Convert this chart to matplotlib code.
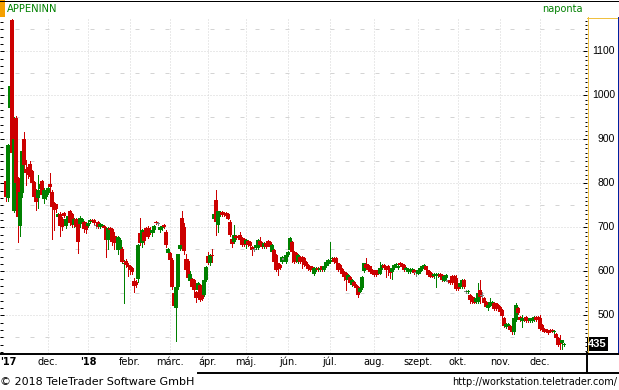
import numpy as np
import matplotlib
matplotlib.use("Agg")
import matplotlib.pyplot as plt
from matplotlib.ticker import MultipleLocator
from matplotlib.patches import Rectangle

# APPENINN daily candles, Nov 2017 - Dec 2018 (trading-day index)
opens = [805, 766, 972, 1171, 738, 949, 811, 702, 777, 900,
         832, 838, 844, 827, 804, 785, 766, 787, 806, 764,
         770, 779, 798, 781, 755, 752, 724, 730, 720, 732,
         702, 717, 736, 730, 705, 720, 710, 707, 710, 712,
         709, 702, 712, 716, 717, 705, 712, 700, 702, 703,
         698, 672, 698, 696, 680, 678, 648, 651, 651, 617,
         624, 614, 611, 607, 577, 575, 582, 686, 664, 690,
         698, 698, 694, 686, 694, 712, 709, 694, 698, 705,
         690, 641, 641, 626, 550, 516, 564, 651, 722, 700,
         628, 624, 577, 582, 580, 554, 558, 569, 565, 546,
         580, 635, 618, 637, 720, 761, 705, 727, 734, 732,
         732, 730, 713, 673, 667, 680, 679, 683, 675, 673,
         662, 669, 667, 656, 650, 652, 652, 670, 664, 656,
         664, 670, 667, 645, 648, 637, 618, 614, 622, 628,
         622, 637, 648, 667, 645, 642, 622, 633, 633, 630,
         622, 614, 611, 609, 595, 603, 607, 603, 611, 603,
         612, 617, 622, 627, 630, 630, 618, 614, 605, 599,
         597, 580, 588, 569, 576, 569, 565, 554, 561, 601,
         617, 614, 611, 603, 602, 599, 603, 595, 607, 614,
         609, 611, 602, 599, 607, 614, 607, 620, 617, 614,
         602, 599, 599, 602, 603, 597, 595, 599, 605, 607,
         611, 602, 599, 595, 589, 589, 589, 595, 592, 579,
         584, 578, 580, 589, 589, 584, 569, 565, 565, 580,
         554, 552, 546, 542, 539, 531, 531, 558, 546, 539,
         531, 516, 523, 521, 529, 527, 523, 520, 512, 495,
         474, 474, 476, 474, 463, 489, 516, 497, 486, 488,
         497, 493, 486, 486, 489, 497, 497, 493, 478, 470,
         468, 465, 467, 467, 461, 458, 448, 444, 436, 433]
highs = [815, 890, 1025, 1173, 950, 952, 815, 785, 875, 917,
         853, 845, 850, 830, 806, 788, 820, 805, 808, 790,
         784, 792, 823, 784, 758, 754, 732, 735, 724, 734,
         722, 728, 740, 733, 722, 722, 712, 725, 722, 715,
         712, 712, 718, 720, 720, 712, 714, 709, 708, 705,
         700, 700, 700, 698, 690, 680, 680, 675, 655, 625,
         628, 620, 615, 610, 584, 580, 662, 721, 696, 694,
         700, 702, 700, 697, 705, 714, 712, 702, 705, 707,
         695, 652, 645, 630, 556, 560, 640, 660, 736, 710,
         640, 628, 600, 584, 583, 556, 575, 571, 567, 582,
         611, 645, 639, 650, 732, 785, 738, 736, 736, 734,
         734, 732, 716, 676, 705, 682, 681, 690, 677, 675,
         673, 671, 669, 658, 652, 662, 673, 677, 666, 666,
         666, 672, 669, 662, 650, 639, 620, 616, 634, 631,
         639, 647, 677, 670, 647, 644, 639, 635, 635, 632,
         624, 616, 613, 611, 609, 609, 609, 609, 613, 613,
         624, 628, 667, 632, 632, 632, 620, 616, 607, 601,
         599, 594, 590, 582, 578, 571, 567, 563, 590, 620,
         630, 616, 613, 605, 604, 601, 605, 622, 616, 616,
         611, 614, 604, 609, 616, 619, 614, 622, 619, 616,
         609, 607, 607, 607, 605, 599, 605, 609, 614, 616,
         613, 604, 601, 597, 597, 596, 596, 597, 594, 591,
         594, 581, 582, 591, 591, 592, 571, 575, 582, 582,
         557, 558, 548, 544, 541, 541, 573, 580, 554, 541,
         533, 525, 539, 533, 531, 529, 525, 522, 514, 497,
         482, 482, 478, 476, 495, 527, 518, 499, 501, 495,
         499, 495, 495, 495, 499, 499, 499, 501, 480, 472,
         470, 467, 469, 469, 467, 460, 450, 455, 445, 437]
lows = [760, 760, 960, 865, 735, 795, 666, 681, 770, 835,
        796, 812, 810, 795, 760, 740, 745, 784, 768, 755,
        765, 775, 760, 674, 694, 735, 720, 680, 695, 724,
        698, 714, 705, 700, 700, 695, 642, 700, 705, 690,
        688, 700, 710, 712, 705, 698, 698, 698, 700, 698,
        633, 651, 692, 660, 651, 665, 640, 640, 620, 529,
        610, 590, 595, 595, 554, 565, 575, 660, 655, 662,
        680, 676, 684, 680, 690, 708, 705, 690, 694, 698,
        655, 638, 620, 560, 518, 442, 560, 648, 655, 640,
        600, 580, 570, 562, 556, 531, 555, 533, 535, 544,
        578, 616, 615, 622, 716, 683, 690, 725, 726, 725,
        724, 718, 681, 656, 665, 673, 673, 669, 658, 658,
        652, 658, 656, 637, 646, 650, 650, 658, 654, 654,
        654, 658, 654, 643, 620, 601, 592, 605, 618, 625,
        620, 635, 646, 622, 620, 622, 620, 620, 607, 612,
        610, 603, 600, 601, 592, 601, 600, 601, 601, 601,
        610, 615, 620, 625, 620, 616, 601, 600, 593, 580,
        558, 578, 571, 567, 564, 559, 542, 552, 559, 599,
        605, 600, 597, 593, 590, 590, 595, 593, 605, 605,
        588, 592, 584, 582, 605, 612, 605, 612, 607, 601,
        600, 597, 597, 600, 595, 589, 593, 597, 603, 605,
        600, 590, 586, 586, 584, 564, 587, 586, 578, 577,
        582, 574, 571, 571, 571, 557, 557, 563, 563, 563,
        551, 550, 527, 529, 527, 529, 529, 527, 539, 525,
        518, 512, 521, 519, 512, 512, 514, 506, 496, 474,
        472, 472, 465, 458, 458, 487, 503, 487, 474, 486,
        484, 484, 484, 484, 487, 487, 487, 467, 465, 461,
        461, 457, 461, 461, 459, 446, 431, 423, 423, 431]
closes = [768, 887, 1021, 868, 900, 800, 723, 781, 873, 842,
          823, 819, 815, 800, 770, 758, 785, 798, 773, 785,
          781, 789, 792, 747, 739, 741, 730, 702, 700, 726,
          720, 726, 709, 705, 718, 700, 666, 722, 720, 697,
          694, 709, 716, 714, 709, 705, 700, 707, 705, 699,
          672, 698, 694, 666, 664, 668, 677, 671, 622, 620,
          614, 610, 603, 599, 567, 569, 660, 664, 694, 670,
          688, 677, 686, 694, 702, 709, 709, 700, 703, 700,
          660, 651, 626, 564, 521, 565, 639, 659, 660, 647,
          603, 584, 595, 565, 558, 540, 573, 535, 537, 580,
          609, 618, 637, 635, 730, 713, 736, 734, 728, 727,
          726, 720, 683, 662, 683, 675, 675, 671, 660, 660,
          671, 660, 658, 648, 650, 660, 671, 660, 656, 664,
          656, 660, 656, 660, 622, 603, 605, 607, 632, 628,
          637, 645, 675, 645, 622, 624, 637, 622, 622, 614,
          612, 605, 602, 603, 607, 607, 602, 607, 603, 611,
          622, 626, 626, 630, 622, 618, 603, 602, 595, 588,
          580, 592, 573, 580, 566, 561, 546, 561, 588, 618,
          607, 602, 599, 595, 592, 592, 597, 607, 614, 607,
          603, 603, 597, 607, 614, 617, 612, 614, 609, 603,
          607, 605, 605, 605, 597, 597, 603, 607, 612, 614,
          602, 592, 588, 588, 595, 594, 594, 588, 580, 589,
          592, 578, 573, 573, 573, 559, 559, 573, 580, 565,
          554, 556, 535, 531, 529, 539, 550, 542, 546, 527,
          520, 523, 531, 531, 514, 514, 516, 508, 498, 476,
          480, 480, 467, 461, 493, 523, 505, 489, 495, 493,
          486, 486, 493, 493, 497, 489, 489, 470, 467, 463,
          463, 459, 463, 463, 465, 448, 433, 435, 444, 435]

month_starts = [0, 21, 41, 62, 82, 101, 120, 141, 162, 184, 206, 226, 247, 267]
month_labels = ["'17", "dec.", "'18", "febr.", "márc.", "ápr.", "máj.", "jún.",
                "júl.", "aug.", "szept.", "okt.", "nov.", "dec."]
price_ticks = [500, 600, 700, 800, 900, 1000, 1100]
half_levels = [450, 550, 650, 750, 850, 950, 1050, 1150]

W, H = 619, 390
UP, DOWN, FLAT = "#008000", "#cc0000", "#808080"
GRID = "#d4d4d4"
PX = 0.72  # one pixel in points
NUMFONT = ["Liberation Sans", "DejaVu Sans"]


def box(x0, y0, x1, y1):
    return [x0 / W, 1 - y1 / H, (x1 - x0) / W, (y1 - y0) / H]


o = np.array(opens, float)
h = np.array(highs, float)
l = np.array(lows, float)
c = np.array(closes, float)
idx = np.arange(len(c))
cols = [UP if cc > oo else DOWN if cc < oo else FLAT for oo, cc in zip(o, c)]

fig = plt.figure(figsize=(W / 100, H / 100), dpi=100)
fig.patch.set_facecolor("white")

ax = fig.add_axes(box(0, 17, 587, 352.5))
ax.set_xlim(-3, 290.5)
ax.set_ylim(415.5, 1178)
for s in ax.spines.values():
    s.set_visible(False)

# grid
for p in price_ticks:
    ax.axhline(p, color=GRID, lw=PX, ls=(0, (1, 2)), zorder=0)
for p in half_levels:
    ax.axhline(p, color=GRID, lw=PX, ls=(0, (4, 11)), zorder=0)
for m in month_starts[1:]:
    ax.axvline(m, color=GRID, lw=PX, ls=(0, (1, 2)), zorder=0)

# candles
ax.vlines(idx, l, h, colors=cols, lw=PX, antialiased=False, zorder=2)
body = np.abs(c - o)
hgt = np.maximum(body, 2.3)
bot = np.minimum(o, c) - (hgt - body) / 2
ax.bar(idx, hgt, width=1.6, bottom=bot, color=cols, linewidth=0,
       antialiased=False, zorder=3)

# left ticks
ax.yaxis.set_major_locator(MultipleLocator(100))
ax.yaxis.set_minor_locator(MultipleLocator(100 / 6))
ax.tick_params(axis="y", which="both", direction="in", left=True, right=False,
               labelleft=False, width=PX, color="black")
ax.tick_params(axis="y", which="major", length=3)
ax.tick_params(axis="y", which="minor", length=2.2)
ax.set_xticks([])

# month labels under the plot
xtr = ax.get_xaxis_transform()
for pos, lab in zip(month_starts, month_labels):
    bold = lab.startswith("'")
    if pos <= ax.get_xlim()[0] + 3:
        ax.text(ax.get_xlim()[0], -0.029, lab, transform=xtr, ha="left", va="center",
                fontsize=7, fontweight="bold", clip_on=False)
    else:
        ax.text(pos, -0.029, lab, transform=xtr, ha="center", va="center",
                fontsize=7, fontweight="bold" if bold else "normal", clip_on=False)

# right tick marks
ax2 = ax.twinx()
ax2.set_ylim(ax.get_ylim())
for s in ax2.spines.values():
    s.set_visible(False)
ax2.set_yticks(price_ticks)
ax2.yaxis.set_minor_locator(MultipleLocator(10))
ax2.tick_params(axis="y", which="both", direction="in", width=PX, color="black",
                labelright=False)
ax2.tick_params(axis="y", which="major", length=3)
ax2.tick_params(axis="y", which="minor", length=1.5)

# frame, panels and texts in pixel coordinates
ov = fig.add_axes([0, 0, 1, 1])
ov.set_xlim(0, W)
ov.set_ylim(H, 0)
ov.axis("off")


def ypix(price):
    return H - ax.transData.transform((0, price))[1]


for p in price_ticks:
    ov.text(615, ypix(p), str(p), ha="right", va="center", fontsize=7.5, family=NUMFONT)

ov.plot([0, W], [0.5, 0.5], color="black", lw=PX)
ov.add_patch(Rectangle((0, 0), 5, 16.5, color="#f5a000", lw=0))
ov.plot([587.5, 587.5], [17, 352], color="#f0c040", lw=PX)
ov.plot([587, 617], [17.5, 17.5], color="#f0c040", lw=PX)
ov.plot([617.5, 617.5], [17, 353], color="#0020a0", lw=PX)
ov.plot([587, 618], [352.5, 352.5], color="#0020a0", lw=PX)
ov.plot([618.5, 618.5], [0, 373], color="black", lw=PX)
ov.plot([0, W], [353.5, 353.5], color="black", lw=1.4)
ov.plot([198, W], [372.5, 372.5], color="black", lw=1.4)
ov.plot([586.5, 586.5], [353, 373], color="black", lw=1.4)

ov.text(7, 9, "APPENINN", color="#008000", fontsize=7.2, va="center", ha="left")
ov.text(583, 9, "naponta", color="#008000", fontsize=7, va="center", ha="right")
ov.text(0, 382, "\u00a9 2018 TeleTrader Software GmbH", fontsize=8, va="center", ha="left")
ov.text(617, 382, "http://workstation.teletrader.com/", fontsize=7, va="center", ha="right")

# last price marker
last = closes[-1]
ly = ypix(last)
ov.add_patch(Rectangle((587, ly - 7), 21, 14, color="black", lw=0))
ov.text(597.5, ly + 0.5, str(last), color="white", fontsize=8, va="center", ha="center",
        family=NUMFONT, fontweight="bold")

fig.savefig("out.png", dpi=100)
